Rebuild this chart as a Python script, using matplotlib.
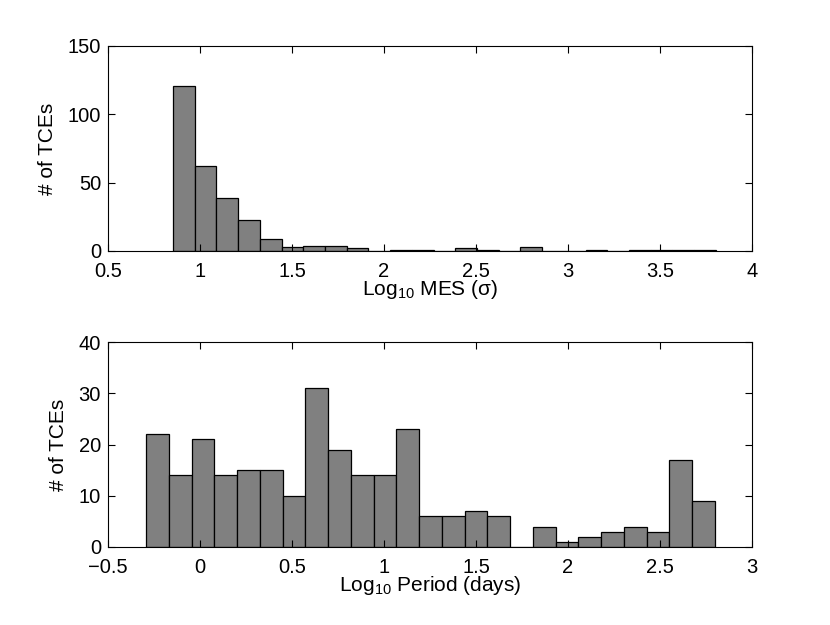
import numpy as np
import matplotlib
matplotlib.use('Agg')
from matplotlib import pyplot as plt

plt.rcParams['font.family'] = ['Liberation Sans', 'DejaVu Sans']
plt.rcParams['mathtext.fontset'] = 'custom'
plt.rcParams['mathtext.rm'] = 'Liberation Sans'
plt.rcParams['mathtext.it'] = 'Liberation Sans:italic'

# histogram of log10 MES, 25 bins
mes_lo, mes_hi = 0.853, 3.804
mes_counts = [121, 62, 39, 23, 9, 3, 4, 4, 2, 0, 1, 1, 0, 2, 1, 0, 3, 0, 0, 1, 0, 1, 1, 1, 1]

# histogram of log10 period, 25 bins
per_lo, per_hi = -0.292, 2.798
per_counts = [22, 14, 21, 14, 15, 15, 10, 31, 19, 14, 14, 23, 6, 6, 7, 6, 0, 4, 1, 2, 3, 4, 3, 17, 9]

mes_ticks = [0.5, 1, 1.5, 2, 2.5, 3, 3.5, 4]
mes_yticks = [0, 50, 100, 150]
per_ticks = [-0.5, 0, 0.5, 1, 1.5, 2, 2.5, 3]
per_yticks = [0, 10, 20, 30, 40]

W, H = 830, 625
fig = plt.figure(figsize=(W / 100, H / 100), dpi=100)
ax1 = fig.add_axes([108 / W, 1 - 251 / H, (752 - 108) / W, (251 - 46) / H])
ax2 = fig.add_axes([108 / W, 1 - 547 / H, (752 - 108) / W, (547 - 342) / H])


def draw_hist(ax, lo, hi, counts, xticks, yticks, xlabel):
    edges = np.linspace(lo, hi, len(counts) + 1)
    ax.bar(edges[:-1], counts, width=np.diff(edges), align='edge',
           color='#808080', edgecolor='black', linewidth=0.9)
    ax.set_xlim(xticks[0], xticks[-1])
    ax.set_ylim(yticks[0], yticks[-1])
    ax.set_xticks(xticks)
    ax.set_xticklabels([('%g' % t).replace('-', '\u2212') for t in xticks])
    ax.set_yticks(yticks)
    ax.tick_params(direction='in', top=True, right=True, labelsize=14.5,
                   length=5, width=0.8)
    ax.tick_params(axis='x', pad=8)
    ax.tick_params(axis='y', pad=5)
    for s in ax.spines.values():
        s.set_linewidth(0.8)
    ax.set_xlabel(xlabel, fontsize=15, labelpad=-2)
    ax.set_ylabel('# of TCEs', fontsize=15, labelpad=8)


draw_hist(ax1, mes_lo, mes_hi, mes_counts, mes_ticks, mes_yticks, 'Log$_{10}$ MES (σ)')
draw_hist(ax2, per_lo, per_hi, per_counts, per_ticks, per_yticks, 'Log$_{10}$ Period (days)')

fig.savefig('out.png', dpi=100)
